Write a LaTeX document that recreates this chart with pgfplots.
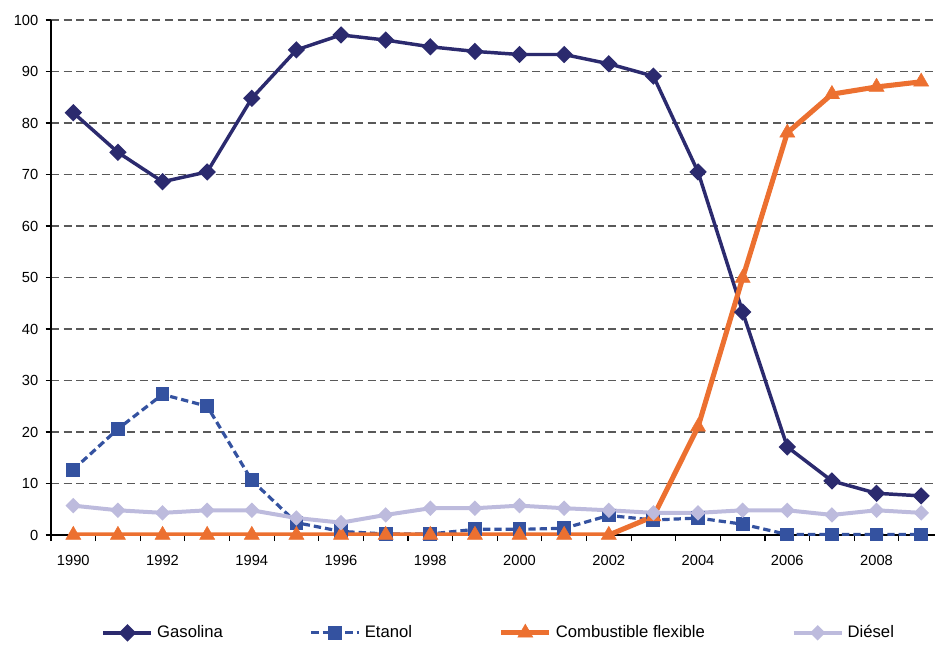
\documentclass[border=0pt]{standalone}
\usepackage{pgfplots}
\pgfplotsset{compat=1.18}
\usepackage{fontspec}
\setmainfont{Liberation Sans}
\definecolor{gas}{HTML}{2B2A6E}
\definecolor{eta}{HTML}{3452A0}
\definecolor{flex}{HTML}{EC7030}
\definecolor{die}{HTML}{BDBBDD}
\begin{document}
\begin{tikzpicture}
\useasboundingbox (-38.25pt,-81.75pt) rectangle (663pt,401.25pt);
\begin{axis}[
  at={(0,0)}, anchor=south west,
  scale only axis, width=663pt, height=386.25pt,
  xmin=1989.5, xmax=2009.31, ymin=0, ymax=100,
  axis x line*=bottom, axis y line*=left,
  axis line style={line width=0.8pt, -},
  xtick={1990,1992,...,2008},
  minor xtick={1989.5,1990.5,...,2009.5},
  every major x tick/.append style={draw=none},
  every minor x tick/.append style={black, line width=0.8pt},
  minor tick length=4.5pt,
  ytick={0,10,...,100},
  major tick length=4pt,
  tick align=outside,
  every major y tick/.append style={black, line width=0.8pt},
  ymajorgrids,
  major grid style={dash pattern=on 6pt off 3.5pt, black!65, line width=0.8pt},
  x tick label style={/pgf/number format/1000 sep={}, yshift=-8pt},
  y tick label style={xshift=-2pt},
  /pgf/number format/assume math mode=true,
  tick label style={font=\fontsize{11}{13}\selectfont},
  legend columns=4,
  legend style={at={(0.507,-0.19)}, anchor=center, draw=none,
    font=\fontsize{12.5}{14}\selectfont,
    /tikz/every even column/.append style={column sep=63pt},
    /tikz/every odd column/.append style={column sep=1pt}},
  legend image code/.code={\draw[mark repeat=2,mark phase=2,#1] plot coordinates {(0pt,0pt) (18pt,0pt) (36pt,0pt)};},
]
\addplot[gas, line width=2.6pt, mark=square*, mark size=3.3pt, mark options={solid, rotate=45, fill=gas, draw=gas}] coordinates {
(1990,82.0)(1991,74.3)(1992,68.6)(1993,70.5)(1994,84.8)(1995,94.2)(1996,97.1)(1997,96.1)(1998,94.8)(1999,93.9)
(2000,93.3)(2001,93.3)(2002,91.5)(2003,89.1)(2004,70.5)(2005,43.3)(2006,17.1)(2007,10.5)(2008,8.1)(2009,7.6)};
\addplot[eta, line width=2.4pt, dash pattern=on 5.5pt off 3pt, mark=square*, mark size=4pt, mark options={solid, fill=eta, draw=eta}] coordinates {
(1990,12.7)(1991,20.6)(1992,27.3)(1993,25.0)(1994,10.6)(1995,2.4)(1996,0.7)(1997,0.2)(1998,0.2)(1999,1.1)
(2000,1.1)(2001,1.3)(2002,3.8)(2003,2.9)(2004,3.3)(2005,2.1)(2006,0.1)(2007,0.1)(2008,0.1)(2009,0.1)};
\addplot[flex, line width=3.8pt, mark=triangle*, mark size=6.5pt, mark options={solid, fill=flex, draw=flex, line width=0.4pt}] coordinates {
(1990,0)(1991,0)(1992,0)(1993,0)(1994,0)(1995,0)(1996,0)(1997,0)(1998,0)(1999,0)
(2000,0)(2001,0)(2002,0)(2003,3.6)(2004,21.0)(2005,49.9)(2006,78.1)(2007,85.6)(2008,87.0)(2009,88.0)};
\addplot[die, line width=3pt, mark=square*, mark size=2.6pt, mark options={solid, rotate=45, fill=die, draw=die}] coordinates {
(1990,5.7)(1991,4.8)(1992,4.3)(1993,4.8)(1994,4.8)(1995,3.3)(1996,2.4)(1997,3.9)(1998,5.2)(1999,5.2)
(2000,5.7)(2001,5.2)(2002,4.8)(2003,4.3)(2004,4.3)(2005,4.8)(2006,4.8)(2007,3.9)(2008,4.8)(2009,4.3)};
\legend{Gasolina, Etanol, Combustible flexible, Diésel}
\end{axis}
\end{tikzpicture}
\end{document}
